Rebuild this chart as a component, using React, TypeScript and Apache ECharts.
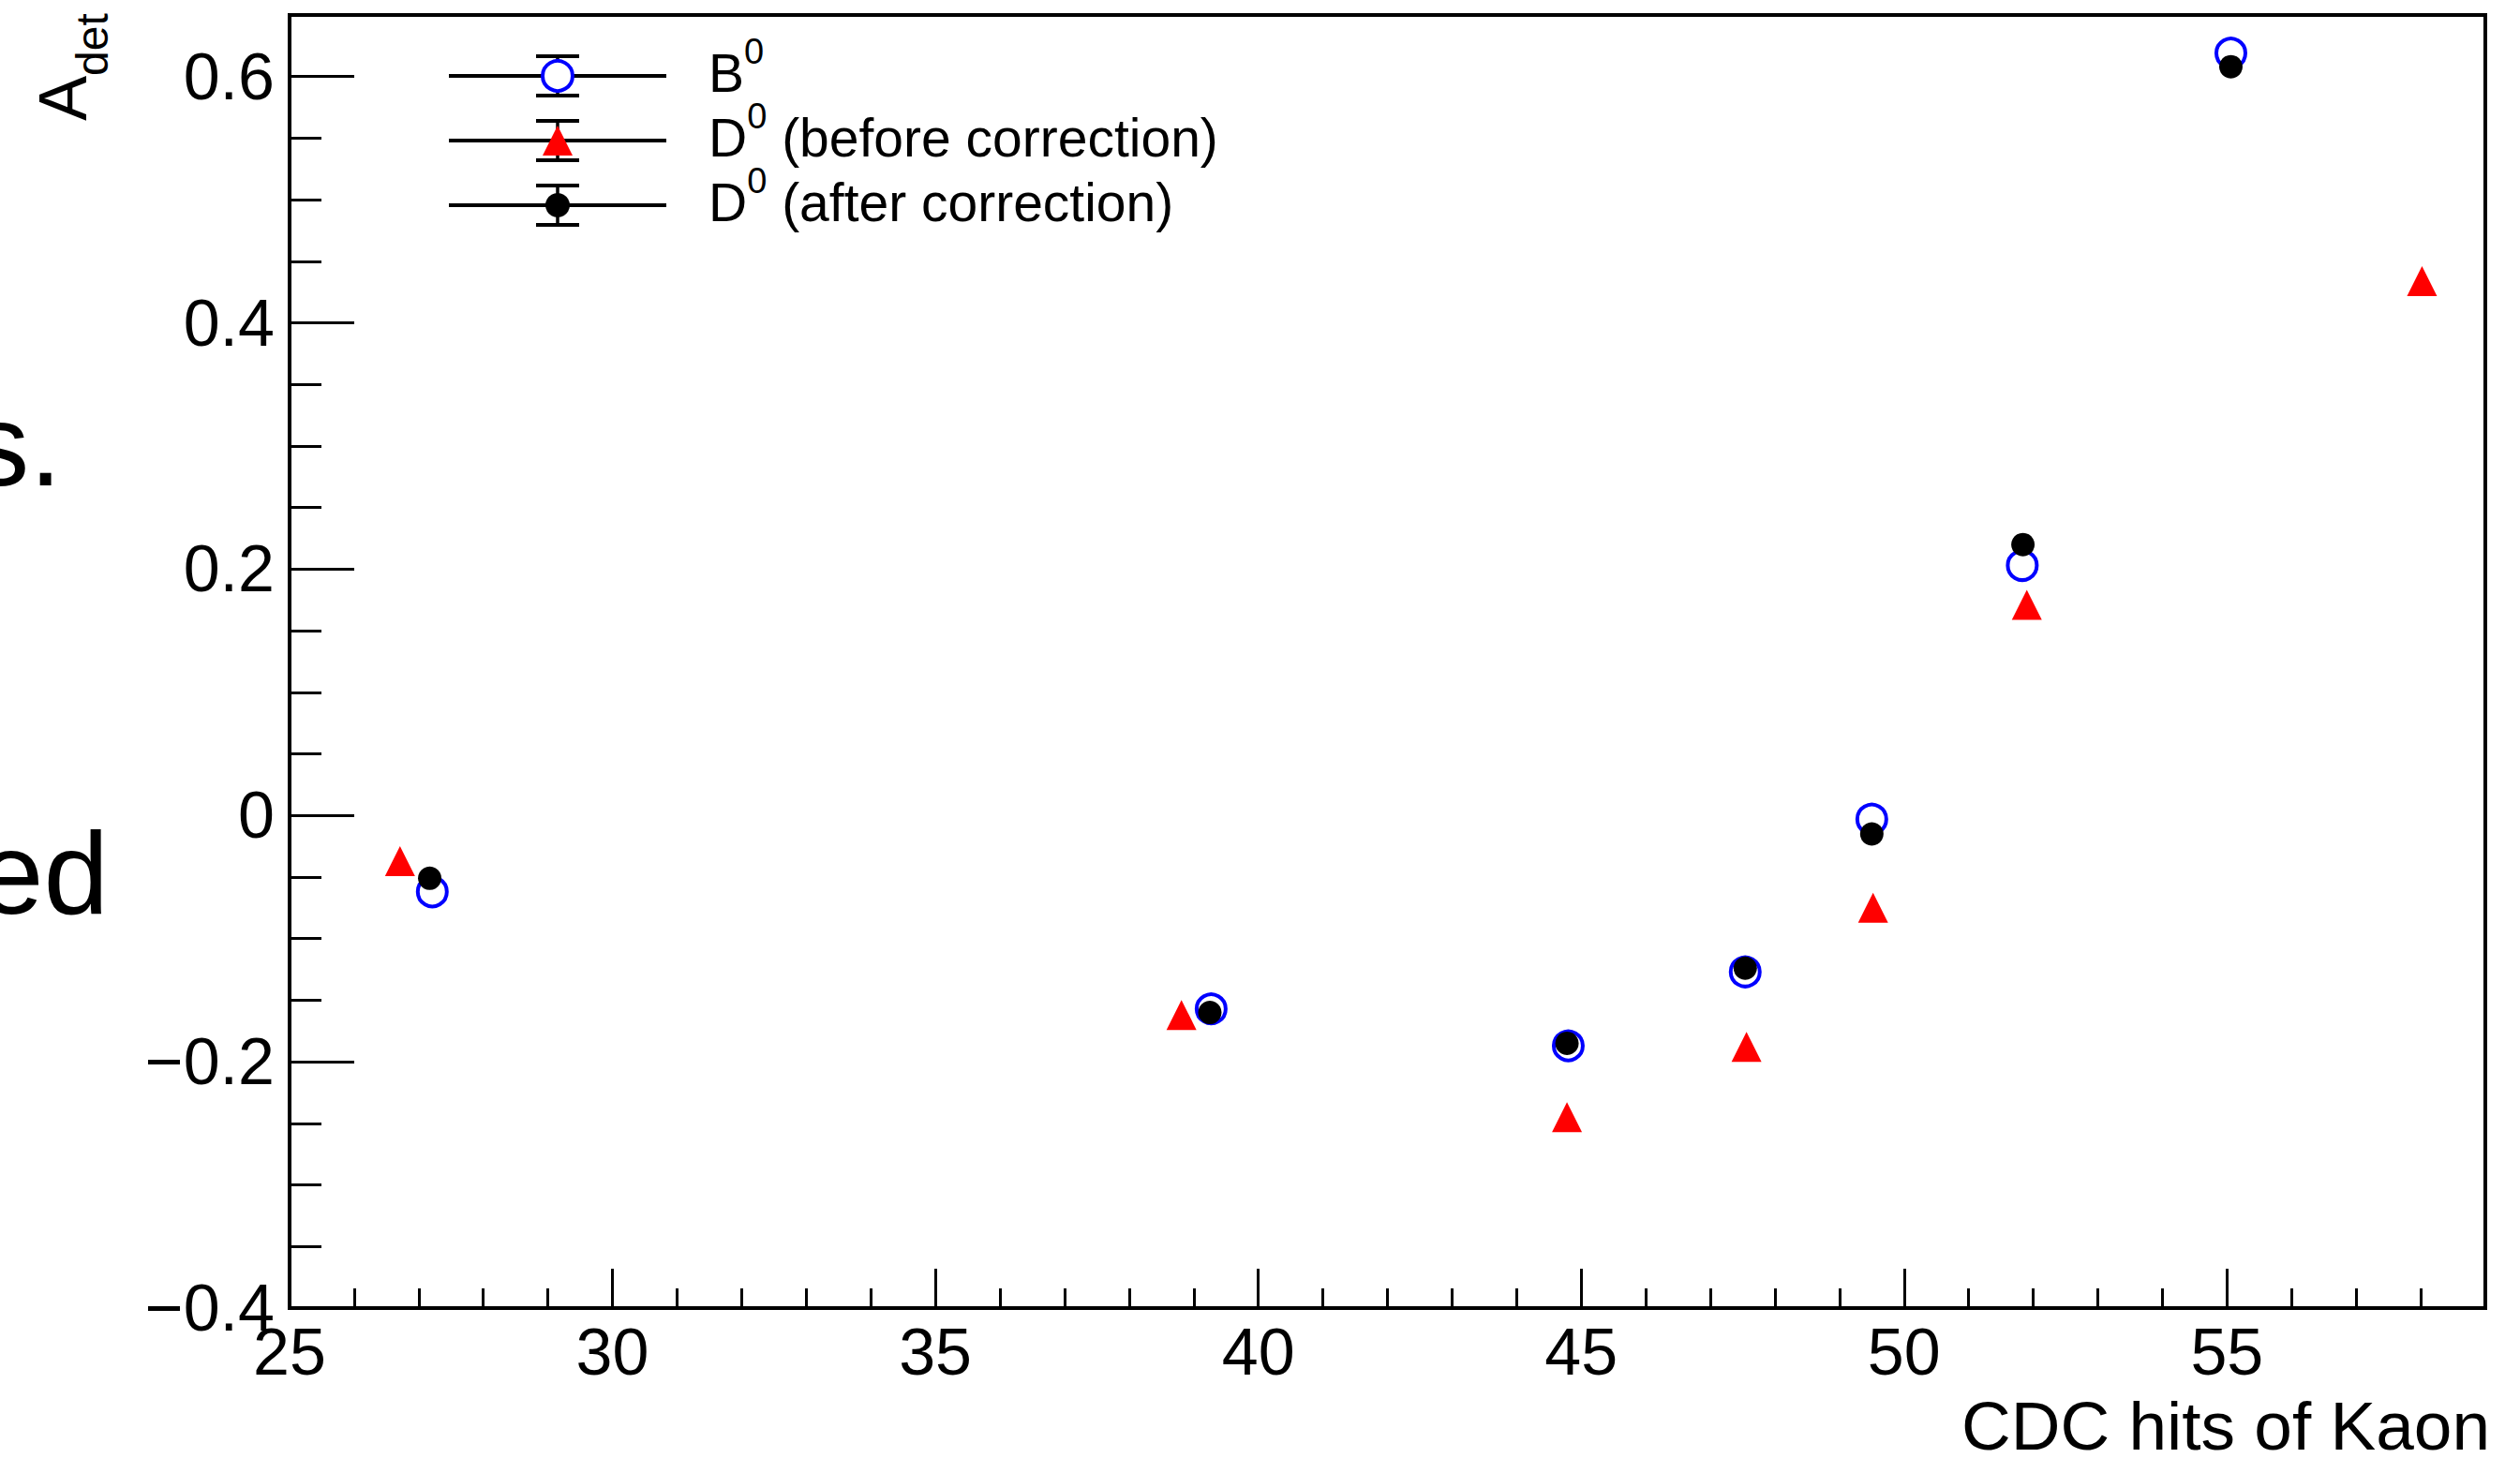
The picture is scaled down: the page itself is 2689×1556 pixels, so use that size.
import React, { useEffect, useRef } from "react";
import * as echarts from "echarts";

// ---- data ----
const hitsB0 = [27.21, 39.27, 44.8, 47.54, 49.5, 51.83, 55.06];
const adetB0 = [-0.062, -0.157, -0.187, -0.127, -0.003, 0.203, 0.619];

const hitsD0Before = [26.71, 38.81, 44.78, 47.56, 49.52, 51.9, 58.02];
const adetD0Before = [-0.037, -0.162, -0.245, -0.188, -0.075, 0.171, 0.434];

const hitsD0After = [27.17, 39.25, 44.78, 47.54, 49.5, 51.84, 55.06];
const adetD0After = [-0.051, -0.16, -0.185, -0.124, -0.015, 0.22, 0.608];

const xTickValues = [25, 30, 35, 40, 45, 50, 55];
const xTickLabels = ["25", "30", "35", "40", "45", "50", "55"];
const yTickValues = [-0.4, -0.2, 0, 0.2, 0.4, 0.6];
const yTickLabels = ["\u22120.4", "\u22120.2", "0", "0.2", "0.4", "0.6"];

const legendMain = ["B", "D", "D"];
const legendSup = ["0", "0", "0"];
const legendRest = ["", " (before correction)", " (after correction)"];

const xTitle = "CDC hits of Kaon";
const yTitleMain = "A";
const yTitleSub = "det";

const FONT = "'Liberation Sans', Arial, Helvetica, sans-serif";

function labelFor(values: number[], labels: string[], v: number): string {
  for (let i = 0; i < values.length; i++) {
    if (Math.abs(values[i] - v) < 1e-6) return labels[i];
  }
  return "";
}

export default function App() {
  const ref = useRef<HTMLDivElement>(null);

  useEffect(() => {
    if (!ref.current) return;
    const chart = echarts.init(ref.current, undefined, { renderer: "svg" });

    const gridLeft = 309;
    const gridRight = 37;
    const gridTop = 16;
    const gridBottom = 160;

    const xMin = 25,
      xMax = 59,
      yMin = -0.4,
      yMax = 0.65;

    const noLine = { show: false, onZero: false };

    const legendRows = [81, 150, 219];
    const markerX = 595;
    const legendGraphics: any[] = [];
    legendRows.forEach((y, i) => {
      legendGraphics.push({
        type: "line",
        shape: { x1: 479, y1: y, x2: 711, y2: y },
        style: { stroke: "#000", lineWidth: 4 },
        z: 10,
      });
      legendGraphics.push({
        type: "line",
        shape: { x1: markerX, y1: y - 21, x2: markerX, y2: y + 21 },
        style: { stroke: "#000", lineWidth: 3.5 },
        z: 10,
      });
      legendGraphics.push({
        type: "line",
        shape: { x1: markerX - 23, y1: y - 21, x2: markerX + 23, y2: y - 21 },
        style: { stroke: "#000", lineWidth: 4 },
        z: 10,
      });
      legendGraphics.push({
        type: "line",
        shape: { x1: markerX - 23, y1: y + 21, x2: markerX + 23, y2: y + 21 },
        style: { stroke: "#000", lineWidth: 4 },
        z: 10,
      });
      if (i === 0) {
        legendGraphics.push({
          type: "circle",
          shape: { cx: markerX, cy: y, r: 16 },
          style: { fill: "#fff", stroke: "#0000ff", lineWidth: 4 },
          z: 11,
        });
      } else if (i === 1) {
        legendGraphics.push({
          type: "polygon",
          shape: {
            points: [
              [markerX - 16, y + 16],
              [markerX + 16, y + 16],
              [markerX, y - 16],
            ],
          },
          style: { fill: "#ff0000" },
          z: 11,
        });
      } else {
        legendGraphics.push({
          type: "circle",
          shape: { cx: markerX, cy: y, r: 13 },
          style: { fill: "#000" },
          z: 11,
        });
      }
      const txt =
        "{m|" +
        legendMain[i] +
        "}{s|" +
        legendSup[i] +
        "}" +
        (legendRest[i] ? "{m|" + legendRest[i] + "}" : "");
      legendGraphics.push({
        type: "text",
        x: 756,
        y: y - 3,
        z: 11,
        style: {
          text: txt,
          fill: "#000",
          align: "left",
          verticalAlign: "middle",
          textAlign: "left",
          textVerticalAlign: "middle",
          rich: {
            m: { fontSize: 57, lineHeight: 84, fontFamily: FONT, fill: "#000" },
            s: {
              fontSize: 38,
              lineHeight: 38,
              fontFamily: FONT,
              verticalAlign: "top",
              fill: "#000",
            },
          },
        },
      });
    });

    const option: any = {
      animation: false,
      backgroundColor: "#fff",
      textStyle: { fontFamily: FONT },
      grid: {
        left: gridLeft,
        right: gridRight,
        top: gridTop,
        bottom: gridBottom,
        show: true,
        borderColor: "#000",
        borderWidth: 4,
        backgroundColor: "rgba(0,0,0,0)",
        containLabel: false,
      },
      xAxis: [
        {
          type: "value",
          position: "bottom",
          min: xMin,
          max: xMax,
          interval: 5,
          axisLine: noLine,
          splitLine: { show: false },
          axisTick: {
            show: true,
            inside: true,
            length: 42,
            lineStyle: { color: "#000", width: 3 },
          },
          axisLabel: {
            show: true,
            margin: 12,
            fontSize: 70,
            fontFamily: FONT,
            color: "#000",
            formatter: (v: number) => labelFor(xTickValues, xTickLabels, v),
          },
        },
        {
          type: "value",
          position: "bottom",
          min: xMin,
          max: xMax,
          interval: 1,
          axisLine: noLine,
          splitLine: { show: false },
          axisTick: {
            show: true,
            inside: true,
            length: 21,
            lineStyle: { color: "#000", width: 3 },
          },
          axisLabel: { show: false },
        },
      ],
      yAxis: [
        {
          type: "value",
          position: "left",
          min: yMin,
          max: yMax,
          interval: 0.2,
          axisLine: noLine,
          splitLine: { show: false },
          axisTick: {
            show: true,
            inside: true,
            length: 69,
            lineStyle: { color: "#000", width: 3 },
          },
          axisLabel: {
            show: true,
            margin: 16,
            fontSize: 70,
            fontFamily: FONT,
            color: "#000",
            formatter: (v: number) => labelFor(yTickValues, yTickLabels, v),
          },
        },
        {
          type: "value",
          position: "left",
          min: yMin,
          max: yMax,
          interval: 0.05,
          axisLine: noLine,
          splitLine: { show: false },
          axisTick: {
            show: true,
            inside: true,
            length: 34,
            lineStyle: { color: "#000", width: 3 },
          },
          axisLabel: { show: false },
        },
      ],
      series: [
        {
          type: "scatter",
          name: "B0",
          xAxisIndex: 0,
          yAxisIndex: 0,
          data: hitsB0.map((x, i) => [x, adetB0[i]]),
          symbol: "circle",
          symbolSize: 31,
          itemStyle: {
            color: "rgba(0,0,0,0)",
            borderColor: "#0000ff",
            borderWidth: 4,
            opacity: 1,
          },
          z: 3,
        },
        {
          type: "scatter",
          name: "D0 (before correction)",
          xAxisIndex: 0,
          yAxisIndex: 0,
          data: hitsD0Before.map((x, i) => [x, adetD0Before[i]]),
          symbol: "triangle",
          symbolSize: 32,
          itemStyle: { color: "#ff0000", opacity: 1 },
          z: 4,
        },
        {
          type: "scatter",
          name: "D0 (after correction)",
          xAxisIndex: 0,
          yAxisIndex: 0,
          data: hitsD0After.map((x, i) => [x, adetD0After[i]]),
          symbol: "circle",
          symbolSize: 25,
          itemStyle: { color: "#000", opacity: 1 },
          z: 5,
        },
      ],
      graphic: [
        ...legendGraphics,
        {
          type: "text",
          x: 2657,
          y: 1521,
          style: {
            text: xTitle,
            fontSize: 73,
            fontFamily: FONT,
            fill: "#000",
            align: "right",
            verticalAlign: "middle",
            textAlign: "right",
            textVerticalAlign: "middle",
          },
        },
        {
          type: "text",
          x: 67,
          y: 129,
          rotation: Math.PI / 2,
          style: {
            text: yTitleMain,
            fontSize: 72,
            fontFamily: FONT,
            fill: "#000",
            align: "left",
            verticalAlign: "middle",
            textAlign: "left",
            textVerticalAlign: "middle",
          },
        },
        {
          type: "text",
          x: 98,
          y: 81,
          rotation: Math.PI / 2,
          style: {
            text: yTitleSub,
            fontSize: 48,
            fontFamily: FONT,
            fill: "#000",
            align: "left",
            verticalAlign: "middle",
            textAlign: "left",
            textVerticalAlign: "middle",
          },
        },
        {
          type: "text",
          x: 66,
          y: 537,
          style: {
            text: "s.",
            fontSize: 125,
            fontFamily: FONT,
            fill: "#000",
            align: "right",
            verticalAlign: "bottom",
            textAlign: "right",
            textVerticalAlign: "bottom",
          },
        },
        {
          type: "text",
          x: 116,
          y: 994,
          style: {
            text: "ed",
            fontSize: 125,
            fontFamily: FONT,
            fill: "#000",
            align: "right",
            verticalAlign: "bottom",
            textAlign: "right",
            textVerticalAlign: "bottom",
          },
        },
      ],
    };

    chart.setOption(option);
    return () => {
      chart.dispose();
    };
  }, []);

  return (
    <div
      ref={ref}
      style={{
        position: "absolute",
        left: 0,
        top: 0,
        width: 2689,
        height: 1556,
        background: "#fff",
      }}
    />
  );
}
